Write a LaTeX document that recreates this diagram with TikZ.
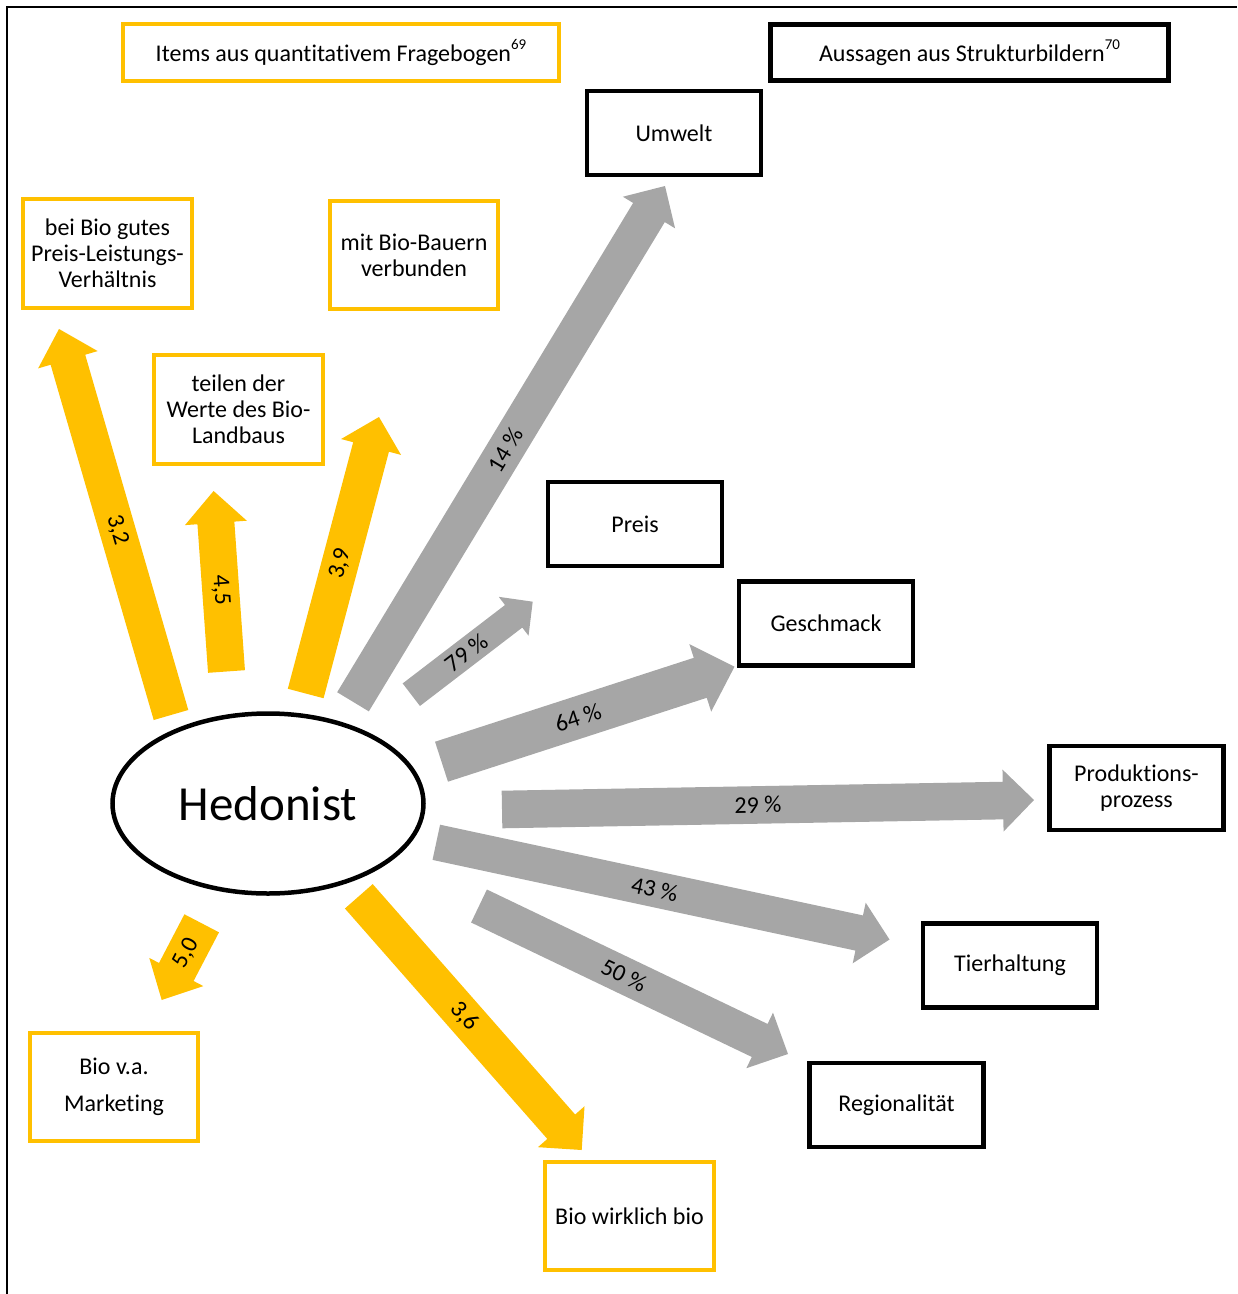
\documentclass[tikz,border=0pt]{standalone}
\usepackage{fontspec}
\setmainfont{Carlito}[Ligatures={NoCommon}]
\usetikzlibrary{calc,shapes.geometric}

\definecolor{bioorange}{HTML}{FFC000}
\definecolor{biogray}{HTML}{A6A6A6}

% block arrow from #2 (tail) to #3 (tip)
% #1 fill, #4 half shaft width, #5 half head width, #6 head length, #7 label pos, #8 label
\newcommand\hedarrow[8]{%
  \path ($(#3)!#6!(#2)$) coordinate (hb);
  \fill[#1] ($(#2)!#4!90:(#3)$) -- ($(hb)!#4!90:(#3)$) -- ($(hb)!#5!90:(#3)$) -- (#3)
    -- ($(hb)!#5!-90:(#3)$) -- ($(hb)!#4!-90:(#3)$) -- ($(#2)!#4!-90:(#3)$) -- cycle;
  \path (#2) -- node[arrowlabel, pos=#7, sloped] {#8} (#3);
}

\tikzset{
  basefont/.style={font=\fontsize{12}{13}\selectfont},
  itembox/.style={basefont, draw=bioorange, line width=2pt, fill=white, align=center,
    inner sep=0pt, minimum width=84.25pt, minimum height=54.25pt},
  codebox/.style={basefont, draw=black, line width=2.4pt, fill=white, align=center,
    inner sep=0pt, minimum width=87pt, minimum height=42pt},
  arrowlabel/.style={basefont, inner sep=0pt, text=black},
}

\begin{document}
\begin{tikzpicture}[x=0.5pt, y=-0.5pt]
  \useasboundingbox (0,0) rectangle (1237,1294);

  % frame
  \draw[line width=1.2pt] (7,1294) -- (7,7) -- (1237,7);

  % legend boxes
  \node[itembox, minimum width=218pt, minimum height=28.5pt] (legitems) at (341,52.5)
    {Items aus quantitativem Fragebogen\raisebox{6pt}{\fontsize{7.5}{8}\selectfont 69}};
  \node[codebox, minimum width=199.25pt, minimum height=28.25pt] (legcodes) at (969.5,52.5)
    {Aussagen aus Strukturbildern\raisebox{6pt}{\fontsize{7.5}{8}\selectfont 70}};

  % central type
  \node[draw, ellipse, line width=2.25pt, inner sep=0pt, minimum width=155.5pt,
    minimum height=90pt, font=\fontsize{24.5}{29}\selectfont] (hed) at (268,803.5) {Hedonist};

  % questionnaire items
  \node[itembox] (plv) at (107.5,253.5) {bei Bio gutes\\Preis-Leistungs-\\Verhältnis};
  \node[itembox] (bauern) at (414,255) {mit Bio-Bauern\\verbunden};
  \node[itembox] (werte) at (238.5,409.5) {teilen der\\Werte des Bio-\\Landbaus};
  \node[itembox] (marketing) at (114,1087) {Bio v.a.\\[5.5pt]Marketing};
  \node[itembox] (wirklich) at (629.5,1216) {Bio wirklich bio};

  % statements from structure images
  \node[codebox] (umwelt) at (674,133) {Umwelt};
  \node[codebox] (preis) at (635,524) {Preis};
  \node[codebox] (geschmack) at (826,623.5) {Geschmack};
  \node[codebox] (prozess) at (1136.5,788) {Produktions-\\prozess};
  \node[codebox] (tier) at (1010,965.5) {Tierhaltung};
  \node[codebox] (region) at (896.5,1105) {Regionalität};

  % arrow end points
  \coordinate (plv-from) at (171,715);        \coordinate (plv-to) at (59,329);
  \coordinate (werte-from) at (226.5,671.5);  \coordinate (werte-to) at (213.6,491);
  \coordinate (bauern-from) at (305.7,693.5); \coordinate (bauern-to) at (379,417);
  \coordinate (wirklich-from) at (358.8,896.3); \coordinate (wirklich-to) at (581.7,1150);
  \coordinate (marketing-from) at (201.7,923.3); \coordinate (marketing-to) at (161.7,1000);
  \coordinate (umwelt-from) at (353,701.8);   \coordinate (umwelt-to) at (665,186);
  \coordinate (preis-from) at (411.3,694.7);  \coordinate (preis-to) at (532.7,601.7);
  \coordinate (geschmack-from) at (441.5,761.7); \coordinate (geschmack-to) at (734.5,666.7);
  \coordinate (prozess-from) at (502,809.5);  \coordinate (prozess-to) at (1034,800);
  \coordinate (tier-from) at (436.3,842.3);   \coordinate (tier-to) at (889.5,939.5);
  \coordinate (region-from) at (479,906);     \coordinate (region-to) at (788,1054);

  % questionnaire arrows
  \hedarrow{bioorange}{plv-from}{plv-to}{9pt}{15.5pt}{16pt}{0.479}{3,2}
  \hedarrow{bioorange}{werte-from}{werte-to}{9.25pt}{15.5pt}{16pt}{0.45}{4,5}
  \hedarrow{bioorange}{bauern-from}{bauern-to}{9.25pt}{15.5pt}{15.5pt}{0.47}{3,9}
  \hedarrow{bioorange}{wirklich-from}{wirklich-to}{9.25pt}{15.5pt}{15.5pt}{0.472}{3,6}
  \hedarrow{bioorange}{marketing-from}{marketing-to}{9.75pt}{15.25pt}{15.8pt}{0.387}{5,0}

  % structure image arrows
  \hedarrow{biogray}{umwelt-from}{umwelt-to}{9.25pt}{15.25pt}{15.5pt}{0.488}{14~\%}
  \hedarrow{biogray}{preis-from}{preis-to}{7.1pt}{12.25pt}{12pt}{0.454}{79~\%}
  \hedarrow{biogray}{geschmack-from}{geschmack-to}{10.5pt}{17.75pt}{18pt}{0.466}{64~\%}
  \hedarrow{biogray}{prozess-from}{prozess-to}{9.4pt}{15.5pt}{15.5pt}{0.481}{29~\%}
  \hedarrow{biogray}{tier-from}{tier-to}{9pt}{15.5pt}{15.5pt}{0.482}{43~\%}
  \hedarrow{biogray}{region-from}{region-to}{9.15pt}{15.4pt}{15.7pt}{0.469}{50~\%}
\end{tikzpicture}
\end{document}
